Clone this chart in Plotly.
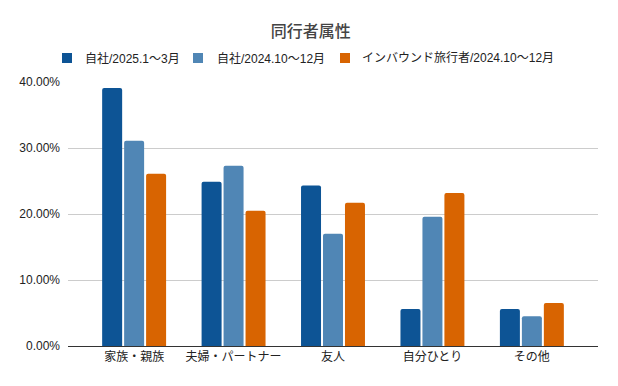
import plotly.graph_objects as go

categories = ["家族・親族", "夫婦・パートナー", "友人", "自分ひとり", "その他"]
series_names = ["自社/2025.1～3月", "自社/2024.10～12月", "インバウンド旅行者/2024.10～12月"]
s1 = [0.391, 0.249, 0.243, 0.056, 0.056]
s2 = [0.311, 0.273, 0.170, 0.196, 0.045]
s3 = [0.261, 0.205, 0.217, 0.232, 0.065]
colors = ["#0d5495", "#5086b5", "#d86401"]

W, H = 618, 386
L, R, T, B = 68, 20, 82, 40
pw, ph = W - L - R, H - T - B

def px_x(x):
    return (x - L) / pw

def px_y(y):
    return (H - B - y) / ph

fig = go.Figure()
for name, vals, c in zip(series_names, [s1, s2, s3], colors):
    fig.add_trace(go.Bar(x=categories, y=vals, name=name, marker_color=c,
                         marker_line_width=0))

font_family = "'Liberation Sans', Arial, 'Noto Sans CJK JP', sans-serif"

# legend drawn manually to match the reference layout
swatch_x = [62, 193, 340]
text_x = [83, 215, 360]
shapes = []
annotations = []
for sx, tx, name, c in zip(swatch_x, text_x, series_names, colors):
    shapes.append(dict(type="rect", xref="paper", yref="paper",
                       x0=px_x(sx), x1=px_x(sx + 10), y0=px_y(63), y1=px_y(53),
                       fillcolor=c, line_width=0))
    annotations.append(dict(text=name, xref="paper", yref="paper", x=px_x(tx), y=px_y(58),
                            xanchor="left", yanchor="middle", showarrow=False,
                            font=dict(size=12, color="#222", family=font_family)))

fig.update_layout(
    width=W, height=H,
    margin=dict(l=L, r=R, t=T, b=B),
    paper_bgcolor="white", plot_bgcolor="white",
    font=dict(family=font_family, size=12, color="#222"),
    title=dict(text="同行者属性", x=0.503, xanchor="center", xref="container",
               y=1 - 31 / H, yanchor="middle", yref="container",
               font=dict(size=16, color="#444", family=font_family, weight=500)),
    barmode="group", bargap=0.337, bargroupgap=0.09, barcornerradius=2,
    showlegend=False,
    shapes=shapes, annotations=annotations,
)
fig.update_xaxes(range=[-0.665, 4.665], showgrid=False, showline=True, linecolor="#333",
                 linewidth=1, ticks="", tickfont=dict(size=12, color="#222"))
fig.update_yaxes(range=[0, 0.4], tickformat=".2%", dtick=0.1, showgrid=True,
                 gridcolor="#cccccc", zeroline=False, ticks="",
                 tickfont=dict(size=12, color="#222"), ticklabelstandoff=7)
fig.write_html("out.html", config={"displayModeBar": False},
               post_script="document.body.style.margin='0';")
